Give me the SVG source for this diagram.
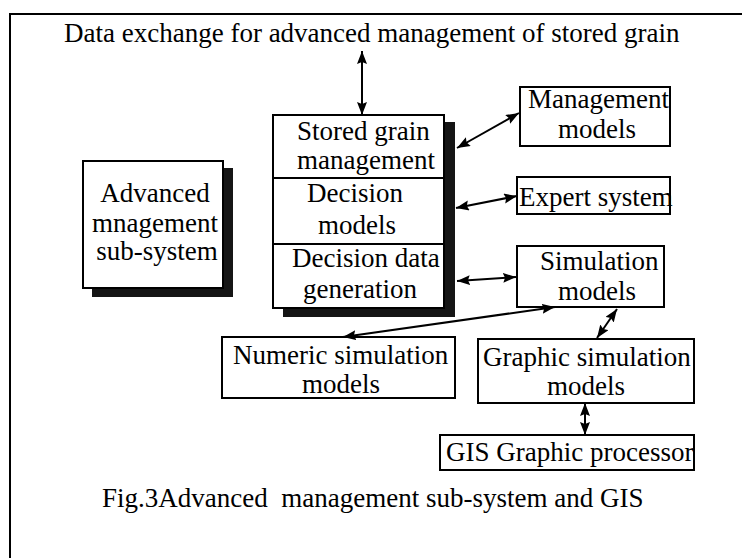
<svg xmlns="http://www.w3.org/2000/svg" width="742" height="558" viewBox="0 0 742 558">
<style>
  .t { font-family: "Liberation Serif", "Times New Roman", serif; font-size: 27px; fill: #000; }
  .box { fill: #fff; stroke: #000; stroke-width: 2; }
  .shadow { fill: #151515; }
  .conn { stroke: #000; stroke-width: 2; fill: none; marker-start: url(#ah); marker-end: url(#ah); }
</style>
<defs>
  <marker id="ah" markerUnits="userSpaceOnUse" markerWidth="14" markerHeight="12" refX="13" refY="5" orient="auto-start-reverse">
    <path d="M0,0 L13,5 L0,10 L2,5 z" fill="#000"/>
  </marker>
</defs>
<rect width="742" height="558" fill="#fff"/>
<path d="M10,558 L10,14 L742,14" fill="none" stroke="#000" stroke-width="2"/>

<g id="title">
  <text class="t" x="64" y="42">Data exchange for advanced management of stored grain</text>
</g>

<g id="advanced-subsystem">
  <rect class="shadow" x="92" y="168" width="141" height="129"/>
  <rect class="box" x="83" y="161" width="140" height="127"/>
  <text class="t" x="155" y="202" text-anchor="middle">Advanced</text>
  <text class="t" x="155" y="232" text-anchor="middle">mnagement</text>
  <text class="t" x="157" y="260" text-anchor="middle">sub-system</text>
</g>

<g id="central-stack">
  <rect class="shadow" x="283" y="122" width="172" height="195"/>
  <rect class="box" x="273" y="115" width="171" height="193"/>
  <line x1="273" y1="178" x2="444" y2="178" stroke="#000" stroke-width="2"/>
  <line x1="273" y1="244" x2="444" y2="244" stroke="#000" stroke-width="2"/>
  <g id="stored-grain-management">
    <text class="t" x="297" y="140">Stored grain</text>
    <text class="t" x="297" y="169">management</text>
  </g>
  <g id="decision-models">
    <text class="t" x="307" y="202">Decision</text>
    <text class="t" x="318" y="234">models</text>
  </g>
  <g id="decision-data-generation">
    <text class="t" x="292" y="267">Decision data</text>
    <text class="t" x="303" y="298">generation</text>
  </g>
</g>

<g id="management-models">
  <rect class="box" x="520" y="87" width="150" height="59"/>
  <text class="t" x="528" y="108">Management</text>
  <text class="t" x="558" y="138">models</text>
</g>

<g id="expert-system">
  <rect class="box" x="517" y="177" width="153" height="37"/>
  <text class="t" x="519" y="206">Expert system</text>
</g>

<g id="simulation-models">
  <rect class="box" x="517" y="246" width="147" height="61"/>
  <text class="t" x="540" y="270">Simulation</text>
  <text class="t" x="558" y="300">models</text>
</g>

<g id="numeric-simulation-models">
  <rect class="box" x="222" y="337" width="233" height="61"/>
  <text class="t" x="233" y="364">Numeric simulation</text>
  <text class="t" x="302" y="393">models</text>
</g>

<g id="graphic-simulation-models">
  <rect class="box" x="478" y="339" width="216" height="64"/>
  <text class="t" x="483" y="366">Graphic simulation</text>
  <text class="t" x="547" y="395">models</text>
</g>

<g id="gis-graphic-processor">
  <rect class="box" x="440" y="435" width="254" height="35"/>
  <text class="t" x="446" y="461">GIS Graphic processor</text>
</g>

<g id="connectors">
  <line class="conn" x1="362" y1="51" x2="362" y2="115"/>
  <line class="conn" x1="457" y1="148" x2="519" y2="113"/>
  <line class="conn" x1="456" y1="208" x2="517" y2="196"/>
  <line class="conn" x1="457" y1="281" x2="516" y2="277"/>
  <line class="conn" x1="555" y1="307" x2="343" y2="337"/>
  <line class="conn" x1="617" y1="309" x2="597" y2="338"/>
  <line class="conn" x1="585" y1="403" x2="585" y2="435"/>
</g>

<g id="caption">
  <text class="t" x="102" y="507" xml:space="preserve">Fig.3Advanced  management sub-system and GIS</text>
</g>
</svg>
